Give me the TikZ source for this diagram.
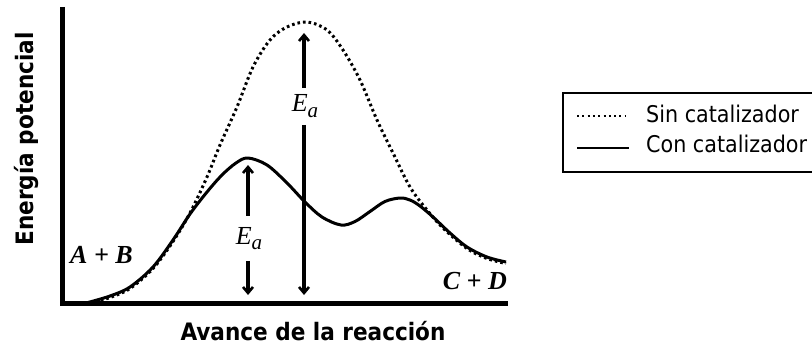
\documentclass[tikz,border=0pt]{standalone}
\usepackage{fontspec}
\usetikzlibrary{arrows.meta}
\newfontfamily\sanslabel{DejaVu Sans Condensed}[BoldFont={DejaVu Sans Condensed Bold}]
\newfontfamily\seriflabel{Liberation Serif}
\newcommand{\Ea}{{\seriflabel\itshape E\raisebox{-5.5pt}{\fontsize{21}{21}\selectfont a}}}

\begin{document}
\begin{tikzpicture}[x=1pt,y=-1pt,
  axis/.style={line width=5pt, line join=miter},
  curve/.style={line width=3pt, line join=round},
  nocat/.style={line width=3pt, dash pattern=on 2.6pt off 3pt},
  barrier/.style={line width=3.2pt, -{Straight Barb[length=6pt,width=10pt,line width=2.6pt]}},
  ealabel/.style={inner xsep=0pt, anchor=base, font=\fontsize{26}{26}\selectfont},
  species/.style={inner sep=0pt, font=\seriflabel\bfseries\itshape\fontsize{26}{26}\selectfont},
  axlabel/.style={inner sep=0pt, anchor=base, font=\sanslabel\bfseries\fontsize{24}{24}\selectfont},
  legtext/.style={inner sep=0pt, anchor=base west, font=\sanslabel\fontsize{23}{23}\selectfont}]
  \useasboundingbox (0,0) rectangle (812,345);
  % axes
  \draw[axis] (62,7) |- (508,303.5);
  \node[axlabel, rotate=90] (ylab) at (33,139) {Energía potencial};
  \node[axlabel] (xlab) at (313,340) {Avance de la reacción};
  % without catalyst: one high barrier
  \draw[nocat] plot[smooth, tension=0.55] coordinates {
    (90,303.5) (110,297.5) (130,288.5) (153,268.5) (173,241.5) (190,213)
    (207,177) (220,145) (237,107) (253,67) (270,40) (287,27) (307,22)
    (327,30) (343,50) (360,80) (377,120) (393,153) (410,187) (427,210)
    (443,228) (467,248.5) (487,258.5) (506,263.5)};
  % with catalyst: two lower barriers
  \draw[curve] plot[smooth, tension=0.55] coordinates {
    (88,302.5) (110,296) (130,287) (153,267) (173,240) (190,214)
    (207,192) (222,175) (236,163) (248,158) (267,165) (287,183)
    (305,202) (322,217) (341,225) (355,221.5) (370,211.5) (385,201.5)
    (400,198) (410,200) (420,206) (433,217) (450,233) (467,247)
    (487,257) (506,262)};
  % reactants and products
  \node[species, anchor=base west] (ab) at (70,263) {A + B};
  \node[species, anchor=base east] (cd) at (507,289) {C + D};
  % activation energies
  \coordinate (cattop) at (248,165);
  \coordinate (catbot) at (248,295);
  \coordinate (nocattop) at (304,33);
  \coordinate (nocatbot) at (304,295);
  \node[ealabel, inner ysep=11pt] (eacat) at (249,244) {\Ea};
  \node[ealabel, inner ysep=7pt] (eanocat) at (305,112) {\Ea};
  \draw[barrier] (eacat.north -| cattop) -- (cattop);
  \draw[barrier] (eacat.south -| catbot) -- (catbot);
  \draw[barrier] (eanocat.north -| nocattop) -- (nocattop);
  \draw[barrier] (eanocat.south -| nocatbot) -- (nocatbot);
  % legend
  \draw[line width=2.6pt] (816,93) -| (563,172) -- (816,172);
  \coordinate (l1a) at (577,116);
  \coordinate (l1b) at (626,116);
  \coordinate (l2a) at (577,148);
  \coordinate (l2b) at (629,148);
  \draw[line width=2pt, dash pattern=on 2pt off 3.3pt] (l1a) -- (l1b);
  \draw[line width=2.6pt] (l2a) -- (l2b);
  \node[legtext] (sin) at (646,123) {Sin catalizador};
  \node[legtext] (con) at (646,152) {Con catalizador};
\end{tikzpicture}
\end{document}
